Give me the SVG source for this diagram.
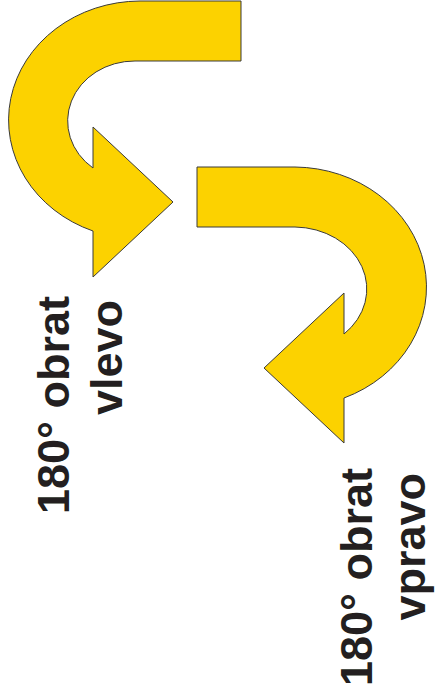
<svg xmlns="http://www.w3.org/2000/svg" width="436" height="695" viewBox="0 0 436 695">
<style>
.arrow{fill:#FCD200;stroke:#3a3a3a;stroke-width:1;stroke-linejoin:miter}
.lbl{font-family:"Liberation Sans",Arial,Helvetica,sans-serif;font-weight:bold;font-size:45px;fill:#231F20;text-anchor:end}
</style>
<rect width="436" height="695" fill="#ffffff"/>
<g id="arrow-left">
<path class="arrow" d="M 241,1 L 241,61 L 135,61 A 67 60 0 0 0 93,168 L 93,127 L 173,202 L 93,277 L 93,231 A 132 119 0 0 1 140,1 Z"/>
</g>
<g id="arrow-right">
<path class="arrow" d="M 197,167 L 295,167 A 133 120 0 0 1 344,398 L 344,443 L 264,368 L 344,293 L 344,334 A 73 62 0 0 0 295,227 L 197,227 Z"/>
</g>
<g id="label-left">
<text class="lbl" transform="translate(69,296) rotate(-90)">180° obrat</text>
<text class="lbl" transform="translate(122,300) rotate(-90)">vlevo</text>
</g>
<g id="label-right">
<text class="lbl" transform="translate(372,468) rotate(-90)">180° obrat</text>
<text class="lbl" transform="translate(425,473) rotate(-90)">vpravo</text>
</g>
<g id="connectors"></g>
</svg>
